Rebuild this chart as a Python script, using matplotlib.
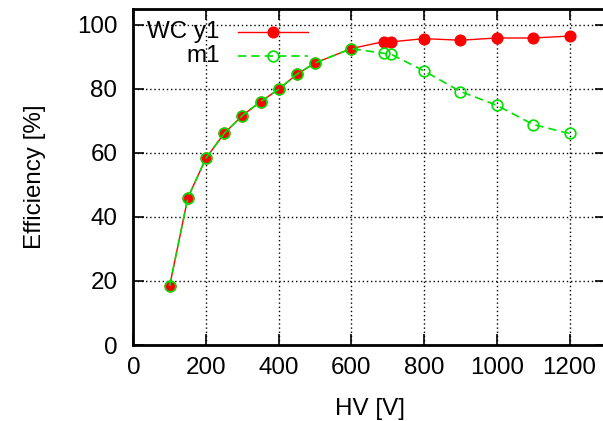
import matplotlib
matplotlib.use("Agg")
import matplotlib.pyplot as plt

# HV scan, efficiency per point
hv = [100, 150, 200, 250, 300, 350, 400, 450, 500, 600, 690, 710, 800, 900, 1000, 1100, 1200]
eff_wc_y1 = [18.4, 45.9, 58.3, 66.0, 71.6, 75.9, 79.8, 84.5, 88.0, 92.5, 94.7, 94.6,
             95.6, 95.1, 95.8, 95.8, 96.4]
eff_m1 = [18.4, 45.9, 58.3, 66.0, 71.6, 75.9, 79.8, 84.5, 88.0, 92.5, 91.0, 90.7,
          85.5, 79.1, 74.8, 68.8, 66.0]

series_labels = ["WC y1", "m1"]
x_ticks = [0, 200, 400, 600, 800, 1000, 1200]
y_ticks = [0, 20, 40, 60, 80, 100]

plt.rcParams["font.family"] = ["Liberation Sans", "DejaVu Sans"]
plt.rcParams["font.size"] = 17.4

RED = "#ff0000"
GREEN = "#00e000"

fig = plt.figure(figsize=(6.03, 4.21), dpi=100)
ax = fig.add_axes([0.221, 0.1805, 0.7838, 0.7993])

ax.plot(hv, eff_wc_y1, color=RED, lw=1.0, marker="o", ms=7.7,
        markerfacecolor=RED, markeredgecolor=RED, zorder=3)
ax.plot(hv, eff_m1, color=GREEN, lw=1.2, ls=(0, (5, 3)), marker="o", ms=7.7,
        markerfacecolor="none", markeredgecolor=GREEN, markeredgewidth=1.2, zorder=4)

ax.set_xlim(0, 1300)
ax.set_ylim(0, 105)
ax.set_xticks(x_ticks)
ax.set_yticks(y_ticks)
ax.tick_params(direction="in", length=8, width=1.2, top=True, right=True, pad=8.5)
ax.tick_params(axis="y", pad=11.5)
for sp in ax.spines.values():
    sp.set_linewidth(2)

ax.grid(True, color="black", ls=(0, (1, 2)), lw=1.0)
ax.set_axisbelow(True)

ax.set_xlabel("HV [V]", labelpad=14)
ax.set_ylabel("Efficiency [%]", labelpad=22)

# gnuplot-style key: right-aligned text, sample on the right
key_rows = [(0.931, series_labels[0], dict(color=RED, lw=1.0, ls="-"),
             dict(markerfacecolor=RED, markeredgecolor=RED)),
            (0.859, series_labels[1], dict(color=GREEN, lw=1.2, ls=(0, (5, 3))),
             dict(markerfacecolor="none", markeredgecolor=GREEN, markeredgewidth=1.2))]
for yk, lab, line_kw, mk_kw in key_rows:
    ax.text(0.183, yk, lab, transform=ax.transAxes, ha="right", va="center")
    ax.plot([0.221, 0.369], [yk, yk], transform=ax.transAxes, clip_on=False, **line_kw)
    ax.plot([0.295], [yk], transform=ax.transAxes, clip_on=False, marker="o", ms=7.7,
            ls="none", **mk_kw)

fig.savefig("out.png", dpi=100)
